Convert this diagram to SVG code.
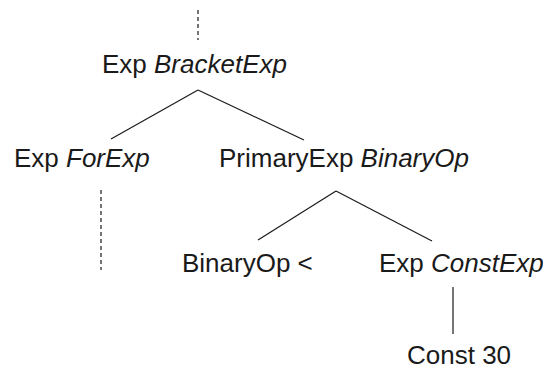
<svg xmlns="http://www.w3.org/2000/svg" width="543" height="370" viewBox="0 0 543 370">
  <style>
    .lbl { font-family: "Liberation Sans", Arial, sans-serif; font-size: 26px; fill: #1a1a1a; }
    .it { font-style: italic; }
    .edge { stroke: #1a1a1a; stroke-width: 1.2; fill: none; }
    .dash { stroke-dasharray: 4 3; }
  </style>
  <rect width="543" height="370" fill="#ffffff"/>

  <g id="connectors">
    <line class="edge dash" x1="198" y1="10" x2="198" y2="40"/>
    <line class="edge" x1="198" y1="90" x2="111" y2="139"/>
    <line class="edge" x1="198" y1="90" x2="304" y2="140"/>
    <line class="edge dash" x1="101" y1="190" x2="101" y2="270"/>
    <line class="edge" x1="336" y1="191" x2="258" y2="240"/>
    <line class="edge" x1="336" y1="191" x2="432" y2="241"/>
    <line class="edge" x1="453" y1="287" x2="453" y2="334"/>
  </g>

  <g id="node-bracketexp">
    <text class="lbl" x="102" y="73">Exp <tspan class="it">BracketExp</tspan></text>
  </g>
  <g id="node-forexp">
    <text class="lbl" x="14" y="167">Exp <tspan class="it">ForExp</tspan></text>
  </g>
  <g id="node-primaryexp">
    <text class="lbl" x="219" y="167">PrimaryExp <tspan class="it">BinaryOp</tspan></text>
  </g>
  <g id="node-binaryop">
    <text class="lbl" x="182" y="272">BinaryOp &lt;</text>
  </g>
  <g id="node-constexp">
    <text class="lbl" x="379" y="272">Exp <tspan class="it">ConstExp</tspan></text>
  </g>
  <g id="node-const">
    <text class="lbl" x="407" y="364">Const 30</text>
  </g>
</svg>
